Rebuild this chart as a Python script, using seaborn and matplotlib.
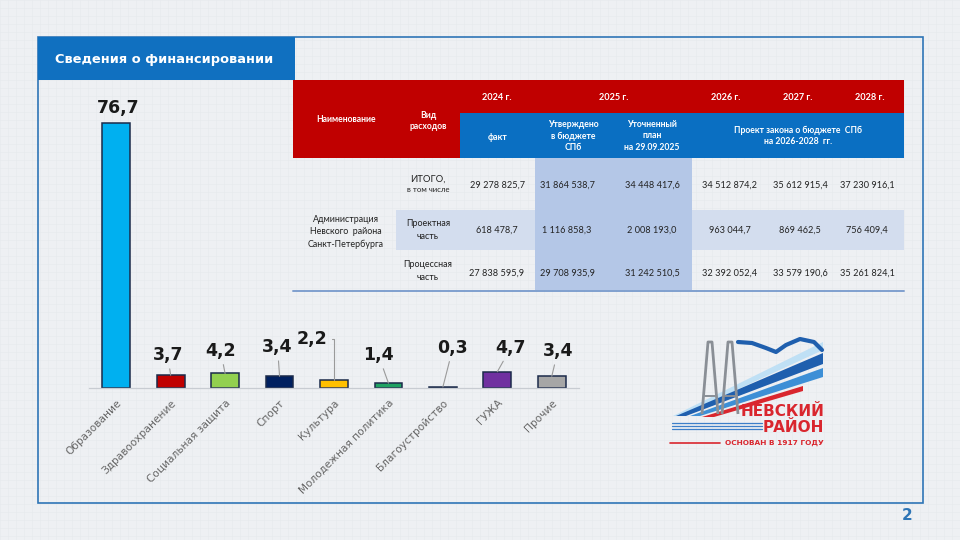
import numpy as np
import pandas as pd
import matplotlib
matplotlib.use("Agg")
import matplotlib.pyplot as plt
import matplotlib.transforms as mtransforms
import seaborn as sns
from matplotlib.patches import Rectangle, Polygon

# ---------------- data ----------------
categories = ["Образование", "Здравоохранение", "Социальная защита", "Спорт",
              "Культура", "Молодежная политика", "Благоустройство", "ГУЖА", "Прочие"]
shares = [76.7, 3.7, 4.2, 3.4, 2.2, 1.4, 0.3, 4.7, 3.4]
bar_colors = ["#00b0f0", "#c00000", "#92d050", "#002060", "#ffc000",
              "#1fa262", "#ff0000", "#7030a0", "#a6a6a6"]

year_headers = ["2024 г.", "2025 г.", "2026 г.", "2027 г.", "2028 г."]
sub_headers = ["факт", "Утверждено\nв бюджете\nСПб", "Уточненный\nплан\nна 29.09.2025",
               "Проект закона о бюджете  СПб\nна 2026-2028  гг."]
col_name_header = "Наименование"
col_type_header = "Вид\nрасходов"
org_name = "Администрация\nНевского  района\nСанкт-Петербурга"
row_types = ["ИТОГО,", "Проектная\nчасть", "Процессная\nчасть"]
row_total_sub = "в том числе"
row_total = [29278825.7, 31864538.7, 34448417.6, 34512874.2, 35612915.4, 37230916.1]
row_project = [618478.7, 1116858.3, 2008193.0, 963044.7, 869462.5, 756409.4]
row_process = [27838595.9, 29708935.9, 31242510.5, 32392052.4, 33579190.6, 35261824.1]

title_text = "Сведения о финансировании"
page_number = "2"
logo_line1 = "НЕВСКИЙ"
logo_line2 = "РАЙОН"
logo_line3 = "ОСНОВАН В 1917 ГОДУ"


def fmt_num(v):
    s = f"{v:,.1f}"
    return s.replace(",", " ").replace(".", ",")


def fmt_share(v):
    return f"{v:.1f}".replace(".", ",")


# ---------------- figure ----------------
sns.set_theme(style="white")
plt.rcParams["font.family"] = ["DejaVu Sans"]

W, H = 960, 540
fig = plt.figure(figsize=(9.6, 5.4), dpi=100)
fig.patch.set_facecolor("#eef0f3")

# background grid
bg = fig.add_axes([0, 0, 1, 1])
bg.set_xlim(0, W)
bg.set_ylim(H, 0)
bg.axis("off")
for gx in np.arange(0, W, 8):
    bg.axvline(gx, color="#e6e9ed", lw=0.4, zorder=0)
for gy in np.arange(0, H, 8):
    bg.axhline(gy, color="#e6e9ed", lw=0.4, zorder=0)

# ---------------- bar chart ----------------
ax_left, ax_right = 89, 579
ax_bottom, ax_top = 388, 100
ax = fig.add_axes([ax_left / W, 1 - ax_bottom / H, (ax_right - ax_left) / W, (ax_bottom - ax_top) / H])
ax.patch.set_alpha(0)
df = pd.DataFrame({"cat": categories, "val": shares})
sns.barplot(data=df, x="cat", y="val", hue="cat", palette=bar_colors, legend=False,
            width=0.51, edgecolor="#1b2a4a", linewidth=1.1, ax=ax, saturation=1)
ax.set_xlim(-0.5, len(categories) - 0.5)
px_per_unit = 265 / 76.7
ax.set_ylim(0, (ax_bottom - ax_top) / px_per_unit)
ax.set_xlabel("")
ax.set_ylabel("")
ax.set_yticks([])
for s in ["top", "right", "left"]:
    ax.spines[s].set_visible(False)
ax.spines["bottom"].set_color("#c8ccd2")
ax.spines["bottom"].set_linewidth(0.9)
ax.set_xticks(range(len(categories)))
ax.set_xticklabels(categories, rotation=45, ha="right", rotation_mode="anchor",
                   fontsize=7.6, color="#666666")
shift = mtransforms.ScaledTranslation(5 / 100, 0, fig.dpi_scale_trans)
for lbl in ax.get_xticklabels():
    lbl.set_transform(lbl.get_transform() + shift)
ax.set_xticks(np.arange(-0.5, len(categories), 1.0), minor=True)
ax.tick_params(axis="x", which="major", length=0, pad=7)
ax.tick_params(axis="x", which="minor", length=4, color="#c8ccd2", width=0.8, direction="out")

# value labels (pixel offsets from bar top -> points)
label_offsets_px = [(2, 15), (-3, 20), (-4.5, 22.5), (-2, 29), (-22, 41), (-10, 28), (10, 39), (13.5, 24), (6, 25)]
for i, (v, (dx, dy)) in enumerate(zip(shares, label_offsets_px)):
    kw = dict(xy=(i, v), xytext=(dx * 0.72, dy * 0.72), textcoords="offset points",
              ha="center", va="center", fontsize=12.5, fontweight="bold", color="#1a1a1a")
    if i == 0:
        ax.annotate(fmt_share(v), **kw)
    elif i == 4:
        ax.annotate(fmt_share(v), **kw,
                    arrowprops=dict(arrowstyle="-", color="#9a9a9a", lw=0.8, shrinkA=1, shrinkB=0,
                                    connectionstyle="angle,angleA=0,angleB=90,rad=0"))
    else:
        ax.annotate(fmt_share(v), **kw,
                    arrowprops=dict(arrowstyle="-", color="#9a9a9a", lw=0.8, shrinkA=1, shrinkB=0))

# ---------------- overlay: frame, title, table, logo ----------------
ov = fig.add_axes([0, 0, 1, 1])
ov.set_xlim(0, W)
ov.set_ylim(H, 0)
ov.axis("off")
ov.patch.set_alpha(0)

ov.add_patch(Rectangle((38, 37), 885, 466, fill=False, edgecolor="#2e75b6", lw=1.2))
ov.add_patch(Rectangle((38, 37), 257, 43, facecolor="#1070c0", edgecolor="none"))
ov.text(164, 59, title_text, color="white", fontsize=9.4, fontweight="bold", ha="center", va="center")

RED = "#c00000"
BLUE = "#0a6fc2"
tab_l, tab_r = 293, 904
ov.add_patch(Rectangle((tab_l, 80), tab_r - tab_l, 78, facecolor=RED, edgecolor="none"))
ov.add_patch(Rectangle((460, 113), tab_r - 460, 45, facecolor=BLUE, edgecolor="none"))
# highlighted 2025 column and project band
ov.add_patch(Rectangle((396, 210), tab_r - 396, 40, facecolor="#d3ddee", edgecolor="none"))
ov.add_patch(Rectangle((535, 158), 157, 132, facecolor="#b4c7e7", edgecolor="none"))
ov.plot([tab_l, tab_r], [290.5, 290.5], color="#7f9fce", lw=1.4)

tfam = ["Lato", "DejaVu Sans"]
ov.text(346, 120, col_name_header, color="white", fontsize=6.2, fontweight="bold", ha="center", va="center", family=tfam)
ov.text(428, 121, col_type_header, color="white", fontsize=6.2, fontweight="bold", ha="center", va="center",
        family=tfam, linespacing=1.2)
year_x = [497, 614, 726, 798, 870]
for x, t in zip(year_x, year_headers):
    ov.text(x, 97, t, color="white", fontsize=6.6, fontweight="bold", ha="center", va="center", family=tfam)
sub_x = [498, 573, 652, 798]
sub_y = [137, 136, 136, 136]
for x, y, t in zip(sub_x, sub_y, sub_headers):
    ov.text(x, y, t, color="white", fontsize=6.2, fontweight="bold", ha="center", va="center",
            family=tfam, linespacing=1.35)

ov.text(346, 232, org_name, color="#222222", fontsize=6.4, ha="center", va="center", family=tfam, linespacing=1.45)
ov.text(428, 179, row_types[0], color="#222222", fontsize=6.8, ha="center", va="center", family=tfam)
ov.text(428, 190, row_total_sub, color="#222222", fontsize=5.6, ha="center", va="center", family=tfam)
ov.text(428, 230, row_types[1], color="#222222", fontsize=6.4, ha="center", va="center", family=tfam, linespacing=1.5)
ov.text(428, 271, row_types[2], color="#222222", fontsize=6.4, ha="center", va="center", family=tfam, linespacing=1.5)

val_x = [497, 567, 652, 730, 800, 867]
for row, y in zip([row_total, row_project, row_process], [185, 230, 273]):
    for x, v in zip(val_x, row):
        ov.text(x, y, fmt_num(v), color="#222222", fontsize=6.6, ha="center", va="center", family=tfam)

# logo (decorative)
stripes = [
    ("#bfe0f5", [(673, 416), (823, 342), (823, 350), (680, 416)]),
    ("#1f5fae", [(676, 416), (823, 353), (823, 364), (686, 416)]),
    ("#3d8fd6", [(690, 416), (823, 368), (823, 377), (700, 416)]),
    ("#d9262e", [(702, 417), (803, 386), (803, 391), (714, 417)]),
]
for col, pts in stripes:
    ov.add_patch(Polygon(pts, closed=True, facecolor=col, edgecolor="none"))
for x0 in [702, 722]:
    ov.plot([x0, x0 + 6, x0 + 10, x0 + 16], [414, 342, 342, 414], color="#8a8f96", lw=2.0, solid_capstyle="butt")
    ov.plot([x0 + 3, x0 + 13], [396, 396], color="#8a8f96", lw=1.4)
bird_x = [738, 752, 766, 776, 786, 800, 814, 822]
bird_y = [342, 343, 348, 352, 345, 339, 342, 350]
ov.plot(bird_x, bird_y, color="#1f5fae", lw=3)
for yy in [423, 426, 429]:
    ov.plot([672, 762], [yy, yy], color="#3d7fc9", lw=0.9)
ov.plot([670, 720], [443, 443], color="#d9262e", lw=1.2)
ov.text(824, 411, logo_line1, color="#d9262e", fontsize=11, fontweight="bold", ha="right", va="center")
ov.text(824, 427, logo_line2, color="#d9262e", fontsize=11, fontweight="bold", ha="right", va="center")
ov.text(824, 443, logo_line3, color="#d9262e", fontsize=5.3, fontweight="bold", ha="right", va="center")

ov.text(907, 515, page_number, color="#2e75b6", fontsize=11, fontweight="bold", ha="center", va="center")

fig.savefig("out.png", dpi=100, facecolor=fig.get_facecolor())
